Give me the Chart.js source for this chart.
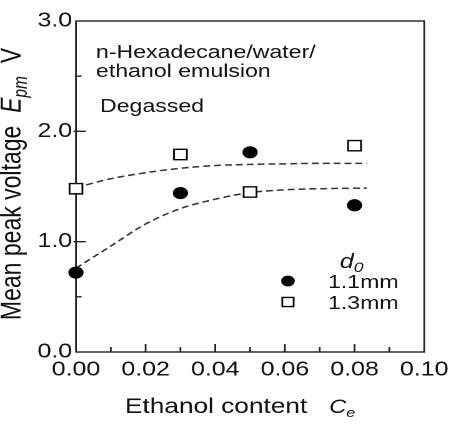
<!DOCTYPE html>
<html><head><meta charset="utf-8">
<script src="https://cdn.jsdelivr.net/npm/chart.js@4.4.1/dist/chart.umd.min.js"></script>
<style>
html,body{margin:0;padding:0;background:#fff;overflow:hidden}
#wrap{position:absolute;left:0;top:0;width:365px;height:437px;transform:scaleX(1.2493);transform-origin:0 0}
canvas{display:block}
</style></head>
<body><div id="wrap"><canvas id="c" width="365" height="437"></canvas></div>
<script>
// ---- data ----
const ethanol = [0, 0.03, 0.05, 0.08];
const d11 = [0.72, 1.44, 1.81, 1.33];
const d13 = [1.48, 1.79, 1.45, 1.87];
const fitX = [0, 0.01, 0.02, 0.03, 0.04, 0.05, 0.06, 0.07, 0.0835];
const fitUpper = [1.49, 1.57, 1.625, 1.665, 1.69, 1.70, 1.705, 1.71, 1.71];
const fitLower = [0.76, 0.96, 1.16, 1.30, 1.385, 1.445, 1.47, 1.48, 1.485];
const xMinorTicks = [0.01, 0.03, 0.05, 0.07, 0.09];
const xMajorTicks = [0.02, 0.04, 0.06, 0.08];
const yMajorTicks = [1, 2];
const yMinorTicks = [0.5, 1.5, 2.5];
const seriesLabels = ['1.1mm', '1.3mm'];

const FF = "'Liberation Sans', Arial, sans-serif";
const INK = '#111';

function drawRich(ctx, segs, x, y) {
  segs.forEach(s => { ctx.font = s.font; ctx.fillText(s.text, x, y + (s.dy || 0)); x += ctx.measureText(s.text).width; });
}
function richWidth(ctx, segs) {
  let w = 0; segs.forEach(s => { ctx.font = s.font; w += ctx.measureText(s.text).width; }); return w;
}

const decor = {
  id: 'decor',
  beforeDatasetsDraw(chart) {
    const {ctx, chartArea: a, scales: {x, y}} = chart;
    ctx.save();
    ctx.strokeStyle = '#222';
    ctx.lineWidth = 1.4;
    ctx.strokeRect(a.left, a.top, a.right - a.left, a.bottom - a.top);
    ctx.beginPath();
    xMajorTicks.forEach(v => { const p = x.getPixelForValue(v); ctx.moveTo(p, a.bottom); ctx.lineTo(p, a.bottom - 8); });
    xMinorTicks.forEach(v => { const p = x.getPixelForValue(v); ctx.moveTo(p, a.bottom); ctx.lineTo(p, a.bottom - 5); });
    yMajorTicks.forEach(v => { const p = y.getPixelForValue(v); ctx.moveTo(a.left - 2, p); ctx.lineTo(a.left + 8, p); });
    yMinorTicks.forEach(v => { const p = y.getPixelForValue(v); ctx.moveTo(a.left, p); ctx.lineTo(a.left + 4.5, p); });
    ctx.stroke();
    ctx.restore();
  },
  afterDraw(chart) {
    const {ctx} = chart;
    ctx.save();
    ctx.fillStyle = INK;
    ctx.textAlign = 'left';
    ctx.textBaseline = 'alphabetic';
    // annotations
    ctx.font = `18.5px ${FF}`;
    ctx.fillText('n-Hexadecane/water/', 76.8, 58);
    ctx.fillText('ethanol emulsion', 76.8, 77);
    ctx.fillText('Degassed', 80, 112);
    // x title
    drawRich(ctx, [
      {text: 'Ethanol content', font: `21px ${FF}`},
      {text: '   ', font: `21px ${FF}`},
      {text: 'C', font: `italic 19px ${FF}`},
      {text: 'e', font: `italic 13px ${FF}`, dy: 4}
    ], 100, 413);
    // y title (rotated)
    const ysegs = [
      {text: 'Mean peak voltage  ', font: `23px ${FF}`},
      {text: 'E', font: `italic 23px ${FF}`},
      {text: 'pm', font: `italic 15.5px ${FF}`, dy: 5},
      {text: '  V', font: `23px ${FF}`}
    ];
    const w = richWidth(ctx, ysegs);
    ctx.save();
    ctx.translate(16.5, 184);
    ctx.rotate(-Math.PI / 2);
    drawRich(ctx, ysegs, -w / 2, 0);
    ctx.restore();
    // legend
    drawRich(ctx, [
      {text: 'd', font: `italic 20px ${FF}`},
      {text: '0', font: `italic 14px ${FF}`, dy: 4}
    ], 272, 268);
    const rows = [281, 302];
    chart.data.datasets.slice(0, 2).forEach((ds, i) => {
      ctx.fillStyle = ds.backgroundColor; ctx.strokeStyle = ds.borderColor; ctx.lineWidth = ds.borderWidth;
      ctx.beginPath();
      const r = ds.pointRadius * 0.88;
      if (ds.pointStyle === 'circle') { ctx.arc(230.5, rows[i], r, 0, Math.PI * 2); }
      else { const h = r * Math.SQRT1_2; ctx.rect(230.5 - h, rows[i] - h, 2 * h, 2 * h); }
      ctx.fill(); ctx.stroke();
      ctx.fillStyle = INK;
      ctx.font = `18.5px ${FF}`;
      ctx.fillText(ds.label, 262.5, rows[i] + 7);
    });
    ctx.restore();
  }
};

new Chart(document.getElementById('c'), {
  type: 'scatter',
  data: {
    datasets: [
      {label: seriesLabels[0], data: ethanol.map((x, i) => ({x, y: d11[i]})), pointStyle: 'circle', pointRadius: 5.6,
       backgroundColor: '#000', borderColor: '#000', borderWidth: 1, clip: false},
      {label: seriesLabels[1], data: ethanol.map((x, i) => ({x, y: d13[i]})), pointStyle: 'rect', pointRadius: 7.3,
       backgroundColor: '#fff', borderColor: '#000', borderWidth: 1.4, clip: false},
      {type: 'line', label: 'fit 1.3', data: fitX.map((x, i) => ({x, y: fitUpper[i]})), borderColor: '#333',
       borderWidth: 1.5, borderDash: [5.5, 3.2], pointRadius: 0, cubicInterpolationMode: 'monotone', fill: false, clip: false},
      {type: 'line', label: 'fit 1.1', data: fitX.map((x, i) => ({x, y: fitLower[i]})), borderColor: '#333',
       borderWidth: 1.5, borderDash: [5.5, 3.2], pointRadius: 0, cubicInterpolationMode: 'monotone', fill: false, clip: false}
    ]
  },
  options: {
    responsive: false,
    devicePixelRatio: 2,
    animation: false,
    events: [],
    layout: {padding: {left: 0, right: 22.4, top: 21, bottom: 0}},
    plugins: {legend: {display: false}, tooltip: {enabled: false}, title: {display: false}},
    scales: {
      x: {
        type: 'linear', min: 0, max: 0.1,
        grid: {display: false, drawTicks: false}, border: {display: false},
        ticks: {stepSize: 0.02, padding: 6, color: INK, font: {family: FF, size: 20},
                callback: v => v.toFixed(2), maxRotation: 0, autoSkip: false},
        afterFit: s => { s.height = 85; }
      },
      y: {
        type: 'linear', min: 0, max: 3,
        grid: {display: false, drawTicks: false}, border: {display: false},
        ticks: {stepSize: 1, padding: 3, color: INK, font: {family: FF, size: 20},
                callback: v => v.toFixed(1)},
        afterFit: s => { s.width = 60.8; }
      }
    }
  },
  plugins: [decor]
});
</script>
</body></html>
